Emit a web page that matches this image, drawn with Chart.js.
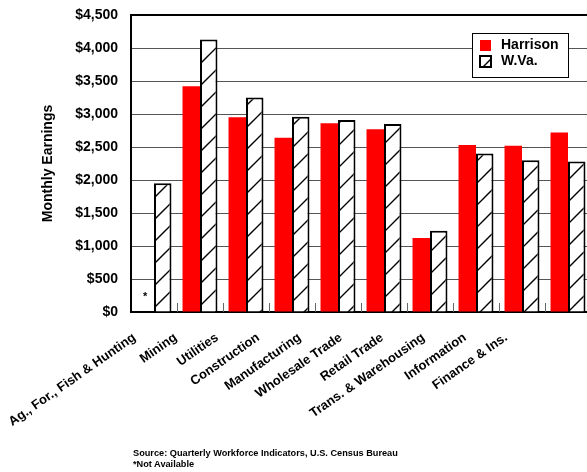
<!DOCTYPE html>
<html>
<head>
<meta charset="utf-8">
<script src="https://cdn.jsdelivr.net/npm/chart.js@4"></script>
<style>
  html, body { margin: 0; padding: 0; background: #fff; overflow: hidden; }
  #wrap { position: relative; width: 587px; height: 472px; overflow: hidden; }
  #myChart { position: absolute; left: 0; top: 0; }
  #note {
    position: absolute; left: 133px; top: 448px;
    font: bold 9.2px "Liberation Sans", Arial, sans-serif; line-height: 11px; color: #000;
  }
</style>
</head>
<body>
<div id="wrap">
  <canvas id="myChart" width="600" height="472"></canvas>
  <div id="note">Source: Quarterly Workforce Indicators, U.S. Census Bureau<br>*Not Available</div>
</div>
<script>
var categories = ["Ag., For., Fish & Hunting", "Mining", "Utilities", "Construction", "Manufacturing",
  "Wholesale Trade", "Retail Trade", "Trans. & Warehousing", "Information", "Finance & Ins."];
var harrison = [null, 3420, 2950, 2640, 2860, 2770, 1120, 2530, 2520, 2720];
var wva = [1950, 4130, 3250, 2960, 2910, 2850, 1230, 2400, 2300, 2280];
var yTicks = [0, 500, 1000, 1500, 2000, 2500, 3000, 3500, 4000, 4500];

var FONT = "'Liberation Sans', Arial, sans-serif";

// hatch fill for W.Va. bars
function makeHatch() {
  var s = 22;
  var c = document.createElement('canvas');
  c.width = s; c.height = s;
  var g = c.getContext('2d');
  g.fillStyle = '#fff';
  g.fillRect(0, 0, s, s);
  g.strokeStyle = '#000';
  g.lineWidth = 1.4;
  g.beginPath();
  g.moveTo(0, s); g.lineTo(s, 0);
  g.moveTo(-2, 2); g.lineTo(2, -2);
  g.moveTo(s - 2, s + 2); g.lineTo(s + 2, s - 2);
  g.stroke();
  return g.createPattern(c, 'repeat');
}
var ctx = document.getElementById('myChart').getContext('2d');
var hatch = makeHatch();

var extras = {
  id: 'extras',
  afterDatasetsDraw: function(chart) {
    var c = chart.ctx, area = chart.chartArea;
    var xs = chart.scales.x, ys = chart.scales.y;
    c.save();
    // small inward ticks between categories
    c.strokeStyle = '#666';
    c.lineWidth = 1;
    for (var i = 1; i < categories.length; i++) {
      var px = Math.round((xs.getPixelForValue(i - 1) + xs.getPixelForValue(i)) / 2) + 0.5;
      c.beginPath();
      c.moveTo(px, area.bottom - 9);
      c.lineTo(px, area.bottom);
      c.stroke();
    }
    // asterisk where Harrison is not available
    var meta = chart.getDatasetMeta(0);
    c.fillStyle = '#000';
    c.font = 'bold 11px ' + FONT;
    c.textAlign = 'center';
    c.textBaseline = 'middle';
    harrison.forEach(function(v, i) {
      if (v === null) {
        var el = meta.data[i];
        var bx = (el && isFinite(el.x)) ? el.x : xs.getPixelForValue(i) - 8;
        c.fillText('*', bx, ys.getPixelForValue(0) - 15);
      }
    });
    c.restore();
  },
  afterDraw: function(chart) {
    var c = chart.ctx, area = chart.chartArea;
    var xs = chart.scales.x;
    var ds = chart.data.datasets;

    // rotated category labels (packed a little tighter than the bars, as in the original)
    c.save();
    c.fillStyle = '#000';
    c.font = 'bold 13px ' + FONT;
    c.textAlign = 'right';
    c.textBaseline = 'top';
    chart.data.labels.forEach(function(lab, i) {
      var ex = area.left + 0.898 * (xs.getPixelForValue(i) - area.left) - 21;
      c.save();
      c.translate(ex, area.bottom + 19);
      c.rotate(-35 * Math.PI / 180);
      c.fillText(lab, 0, 0);
      c.restore();
    });
    c.restore();

    // legend box inside the plot
    var w = 96, h = 44;
    var lx = area.right - 23 - w, ly = area.top + 18;
    c.save();
    c.fillStyle = '#fff';
    c.fillRect(lx, ly, w, h);
    c.strokeStyle = '#000';
    c.lineWidth = 1;
    c.strokeRect(lx + 0.5, ly + 0.5, w, h);
    c.font = 'bold 14px ' + FONT;
    c.textAlign = 'left';
    c.textBaseline = 'middle';
    for (var i = 0; i < ds.length; i++) {
      var ry = ly + 7 + i * 16;
      c.fillStyle = ds[i].backgroundColor;
      c.fillRect(lx + 8, ry, 11, 11);
      if (ds[i].borderWidth) {
        c.strokeStyle = '#000';
        c.lineWidth = 2;
        c.strokeRect(lx + 8, ry, 11, 11);
      }
      c.fillStyle = '#000';
      c.fillText(ds[i].label, lx + 29, ry + 5.5);
    }
    c.restore();
  }
};

var chart = new Chart(ctx, {
  type: 'bar',
  data: {
    labels: categories,
    datasets: [{
      label: 'Harrison',
      data: harrison,
      backgroundColor: '#ff0000',
      borderWidth: 0,
      categoryPercentage: 0.76,
      barPercentage: 1.0
    }, {
      label: 'W.Va.',
      data: wva,
      backgroundColor: hatch,
      borderColor: '#000',
      borderWidth: 2,
      borderSkipped: 'bottom',
      categoryPercentage: 0.76,
      barPercentage: 1.0
    }]
  },
  options: {
    responsive: false,
    animation: false,
    layout: { padding: { left: 0, top: 15, right: 9, bottom: 0 } },
    plugins: {
      legend: { display: false },
      tooltip: { enabled: false }
    },
    scales: {
      x: {
        offset: true,
        grid: { display: false },
        border: { display: true, color: '#000', width: 2 },
        ticks: { display: false },
        afterFit: function(scale) { scale.height = 160; }
      },
      y: {
        min: 0,
        max: 4500,
        afterBuildTicks: function(scale) {
          scale.ticks = yTicks.map(function(v) { return { value: v }; });
        },
        grid: {
          drawTicks: true,
          tickLength: 12,
          tickColor: 'rgba(0,0,0,0)',
          color: function(c) { return c.tick && c.tick.value === 4500 ? '#000' : '#555'; },
          lineWidth: function(c) { return c.tick && c.tick.value === 4500 ? 2 : 1; }
        },
        border: { display: true, color: '#000', width: 2 },
        ticks: {
          padding: 1,
          color: '#000',
          font: { family: FONT, size: 14, weight: 'bold' },
          callback: function(v) { return '$' + Number(v).toLocaleString('en-US'); }
        },
        title: {
          display: true,
          text: 'Monthly Earnings',
          color: '#000',
          font: { family: FONT, size: 14, weight: 'bold' },
          padding: { top: 40, bottom: 0 }
        },
        afterFit: function(scale) { scale.width = 131; }
      }
    }
  },
  plugins: [extras]
});
</script>
</body>
</html>
